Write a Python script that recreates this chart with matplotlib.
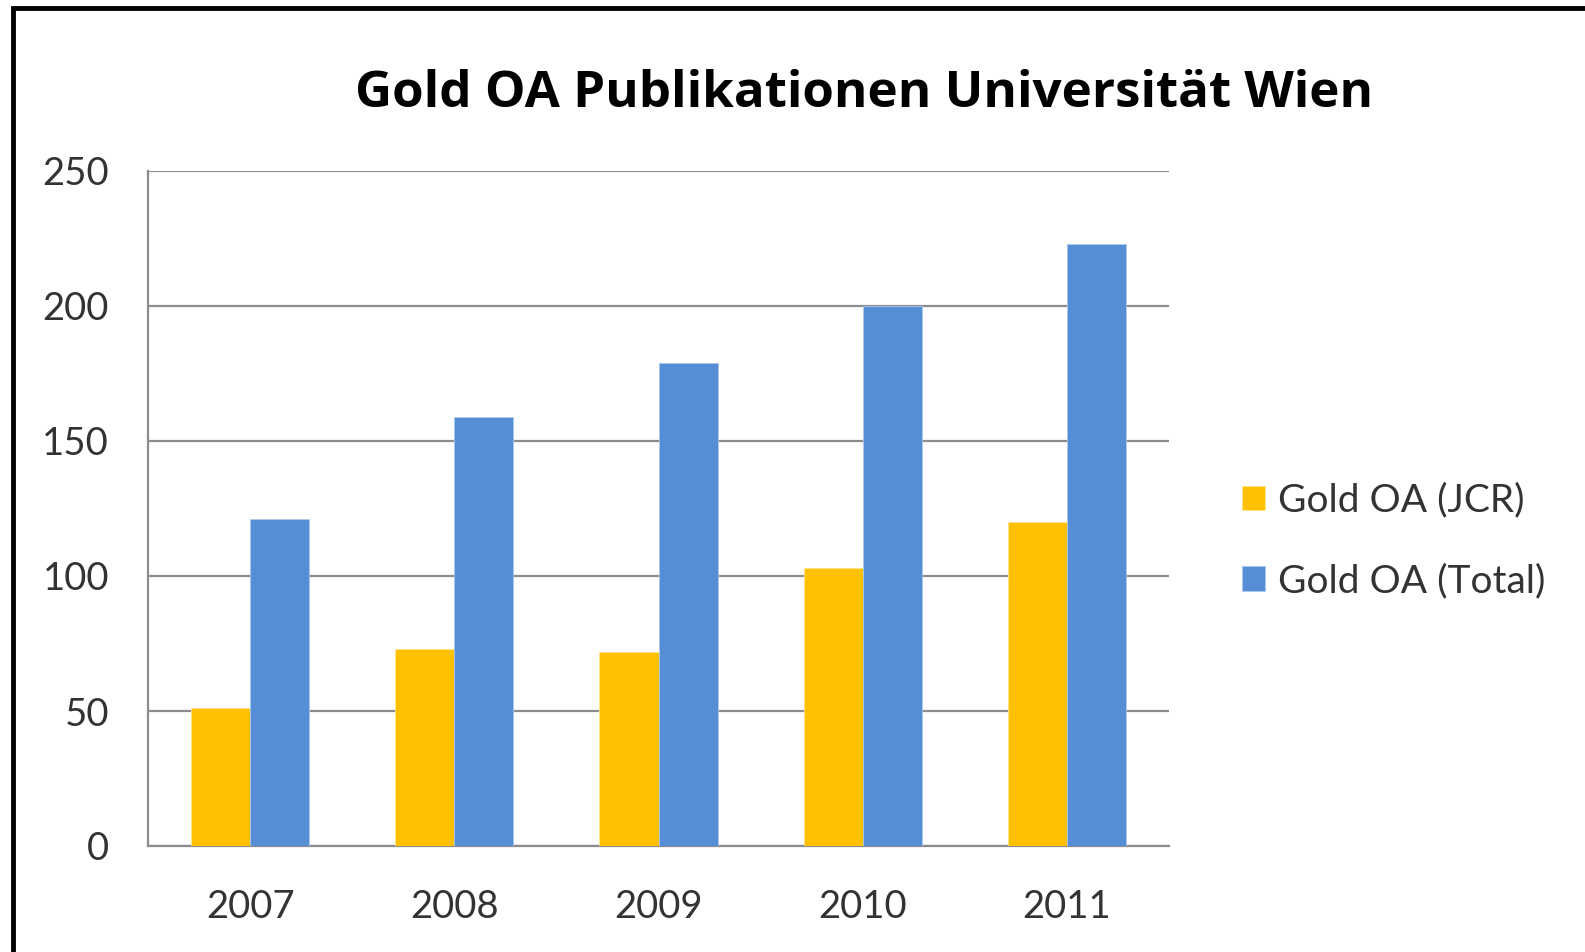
import matplotlib.pyplot as plt
import numpy as np
from matplotlib.patches import Rectangle

plt.rcParams['font.family'] = ['Lato', 'DejaVu Sans']

# data
years = ['2007', '2008', '2009', '2010', '2011']
gold_jcr = [51, 73, 72, 103, 120]
gold_total = [121, 159, 179, 200, 223]
series_names = ['Gold OA (JCR)', 'Gold OA (Total)']
y_ticks = [0, 50, 100, 150, 200, 250]

W, H = 1585, 952
fig = plt.figure(figsize=(W / 100, H / 100), dpi=100)

# black frame of the chart area (screenshot is cropped right/bottom)
fig.patches.append(Rectangle((13 / W, -0.1), 1.2, (H - 8) / H + 0.1,
                             transform=fig.transFigure, fill=False,
                             edgecolor='black', linewidth=3.5, zorder=0))

ax = fig.add_axes([148 / W, 106 / H, 1021 / W, 675 / H])
x = np.arange(len(years))
bw = 0.289
ax.bar(x - bw / 2, gold_jcr, bw, color='#FFC000', edgecolor='#FFE48A',
       linewidth=0.6, label=series_names[0], zorder=3)
ax.bar(x + bw / 2, gold_total, bw, color='#558ED5', edgecolor='#A9C6EE',
       linewidth=0.6, label=series_names[1], zorder=3)

ax.set_xlim(-0.5, len(years) - 0.5)
ax.set_ylim(0, 250)
ax.set_yticks(y_ticks)
ax.set_xticks(x)
ax.set_xticklabels(years)
ax.tick_params(axis='both', length=0, labelsize=27.5, colors='#333333')
ax.tick_params(axis='y', pad=28)
ax.tick_params(axis='x', pad=31)
ax.yaxis.grid(True, color='#8c8c8c', linewidth=1.6, zorder=0)
ax.set_axisbelow(True)
for s in ['top', 'right']:
    ax.spines[s].set_visible(False)
for s in ['left', 'bottom']:
    ax.spines[s].set_color('#8c8c8c')
    ax.spines[s].set_linewidth(1.6)

fig.text(864 / W, 1 - 94 / H, 'Gold OA Publikationen Universität Wien',
         ha='center', va='center', fontsize=36.8, fontweight='bold', color='black',
         family=['Open Sans', 'DejaVu Sans'])

leg = fig.legend(loc='center left', bbox_to_anchor=(1226 / W, 1 - 541 / H),
                 frameon=False, fontsize=28, handlelength=0.6, handleheight=0.6,
                 handletextpad=0.35, labelspacing=1.15, borderaxespad=0)
for t in leg.get_texts():
    t.set_color('#333333')

fig.savefig('out.png', dpi=100)
